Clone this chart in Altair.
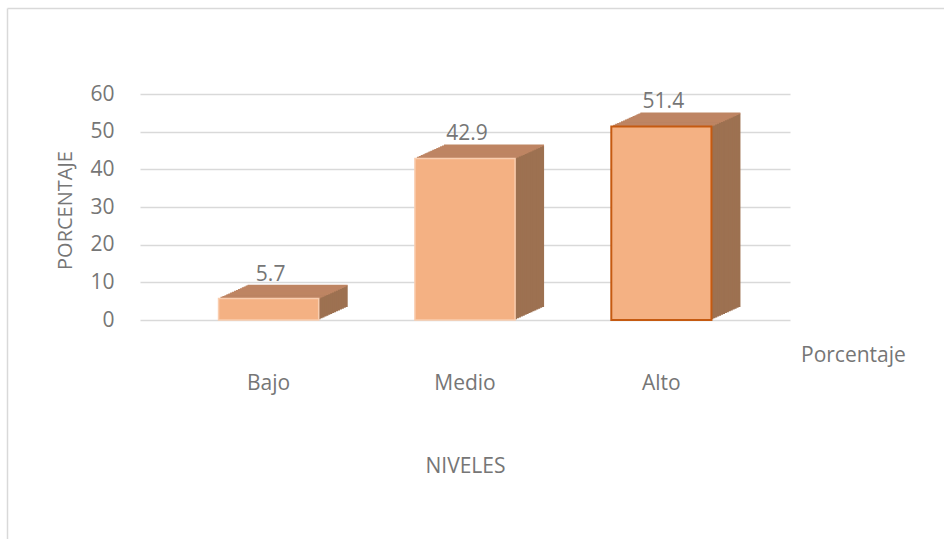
import altair as alt
import pandas as pd

# ---- data ----
niveles = ["Bajo", "Medio", "Alto"]
porcentajes = [5.7, 42.9, 51.4]
serie = ["Porcentaje", "Porcentaje", "Porcentaje"]
y_ticks = [0, 10, 20, 30, 40, 50, 60]

df = pd.DataFrame({"nivel": niveles, "valor": porcentajes, "serie": serie})

FRONT = "#F4B183"
TOP = "#BE8563"
SIDE = "#9D7151"
TEXT = "#767676"
GRID = "#D9D9D9"
FONT = "Open Sans"
FS = 21

W, H = 650, 226
PAD_L, PAD_T = 140, 94

x_enc = alt.X(
    "nivel:N",
    sort=niveles,
    scale=alt.Scale(paddingInner=0.49, paddingOuter=0.4),
    axis=alt.Axis(
        title="NIVELES",
        labelAngle=0,
        labelPadding=52,
        domain=False,
        ticks=False,
        labelFontSize=FS,
        labelColor=TEXT,
        labelFont=FONT,
        titleFontSize=FS,
        titleFont=FONT,
        titleColor=TEXT,
        titleFontWeight="normal",
        titleY=146,
        titleBaseline="middle",
    ),
)
y_enc = alt.Y(
    "valor:Q",
    scale=alt.Scale(domain=[0, 60]),
    axis=alt.Axis(
        title="PORCENTAJE",
        values=y_ticks,
        domain=False,
        ticks=False,
        grid=True,
        gridColor=GRID,
        gridWidth=1.5,
        labelPadding=26,
        labelFontSize=FS,
        labelColor=TEXT,
        labelFont=FONT,
        titleFontSize=20,
        titleFont=FONT,
        titleColor=TEXT,
        titleFontWeight="normal",
        titleX=-75,
        titleY=116,
        titleAngle=-90,
        titleBaseline="middle",
        titleAlign="center",
    ),
)

base = alt.Chart(df)

DEPTH_X = 29.0
DEPTH_Y = 13.0
STEPS = 15

layers = []
# side/back extrusion (staircase of offset copies)
for i in range(STEPS, 0, -1):
    layers.append(
        base.mark_bar(
            color=SIDE,
            xOffset=DEPTH_X * i / STEPS,
            yOffset=-DEPTH_Y * i / STEPS,
        ).encode(x=x_enc, y=y_enc)
    )
# top face
for i in range(STEPS, 0, -1):
    layers.append(
        base.mark_tick(
            color=TOP,
            opacity=1,
            size=100,
            thickness=1.6,
            xOffset=DEPTH_X * i / STEPS,
            yOffset=-DEPTH_Y * i / STEPS,
        ).encode(x=x_enc, y=y_enc)
    )
# front face
front = base.mark_bar(opacity=1).encode(
    x=x_enc,
    y=y_enc,
    color=alt.Color(
        "serie:N",
        scale=alt.Scale(range=[FRONT]),
        legend=alt.Legend(
            title=None,
            orient="none",
            legendX=640,
            legendY=251,
            symbolSize=0,
            symbolStrokeWidth=0,
            labelOffset=0,
            labelFontSize=FS,
            labelFont=FONT,
            labelColor=TEXT,
            padding=0,
        ),
    ),
    stroke=alt.condition(alt.datum.nivel == "Alto", alt.value("#C55A11"), alt.value("#F9CDAF")),
    strokeWidth=alt.condition(alt.datum.nivel == "Alto", alt.value(2), alt.value(1.5)),
)
layers.append(front)

labels = base.mark_text(
    baseline="bottom", dy=-DEPTH_Y - 1, dx=2, fontSize=FS, font=FONT, color=TEXT
).encode(x=x_enc, y=y_enc, text=alt.Text("valor:Q", format=".1f"))
layers.append(labels)

frame_df = pd.DataFrame({"k": [0]})
frame_v = alt.Chart(frame_df).mark_rule(color=GRID, strokeWidth=1.5).encode(
    x=alt.value(7.5 - PAD_L), y=alt.value(8.5 - PAD_T), y2=alt.value(539 - PAD_T)
)
frame_h = alt.Chart(frame_df).mark_rule(color=GRID, strokeWidth=1.5).encode(
    x=alt.value(7.5 - PAD_L), x2=alt.value(944 - PAD_L), y=alt.value(8.5 - PAD_T)
)

chart = (
    alt.layer(frame_v, frame_h, *layers)
    .properties(
        width=W,
        height=H,
        autosize=alt.AutoSizeParams(type="none"),
        padding={"left": PAD_L, "top": PAD_T, "right": 944 - PAD_L - W, "bottom": 539 - PAD_T - H},
        background="white",
    )
    .configure_view(stroke=None)
)

chart.save("out.html", embed_options={"renderer": "svg", "actions": False})
